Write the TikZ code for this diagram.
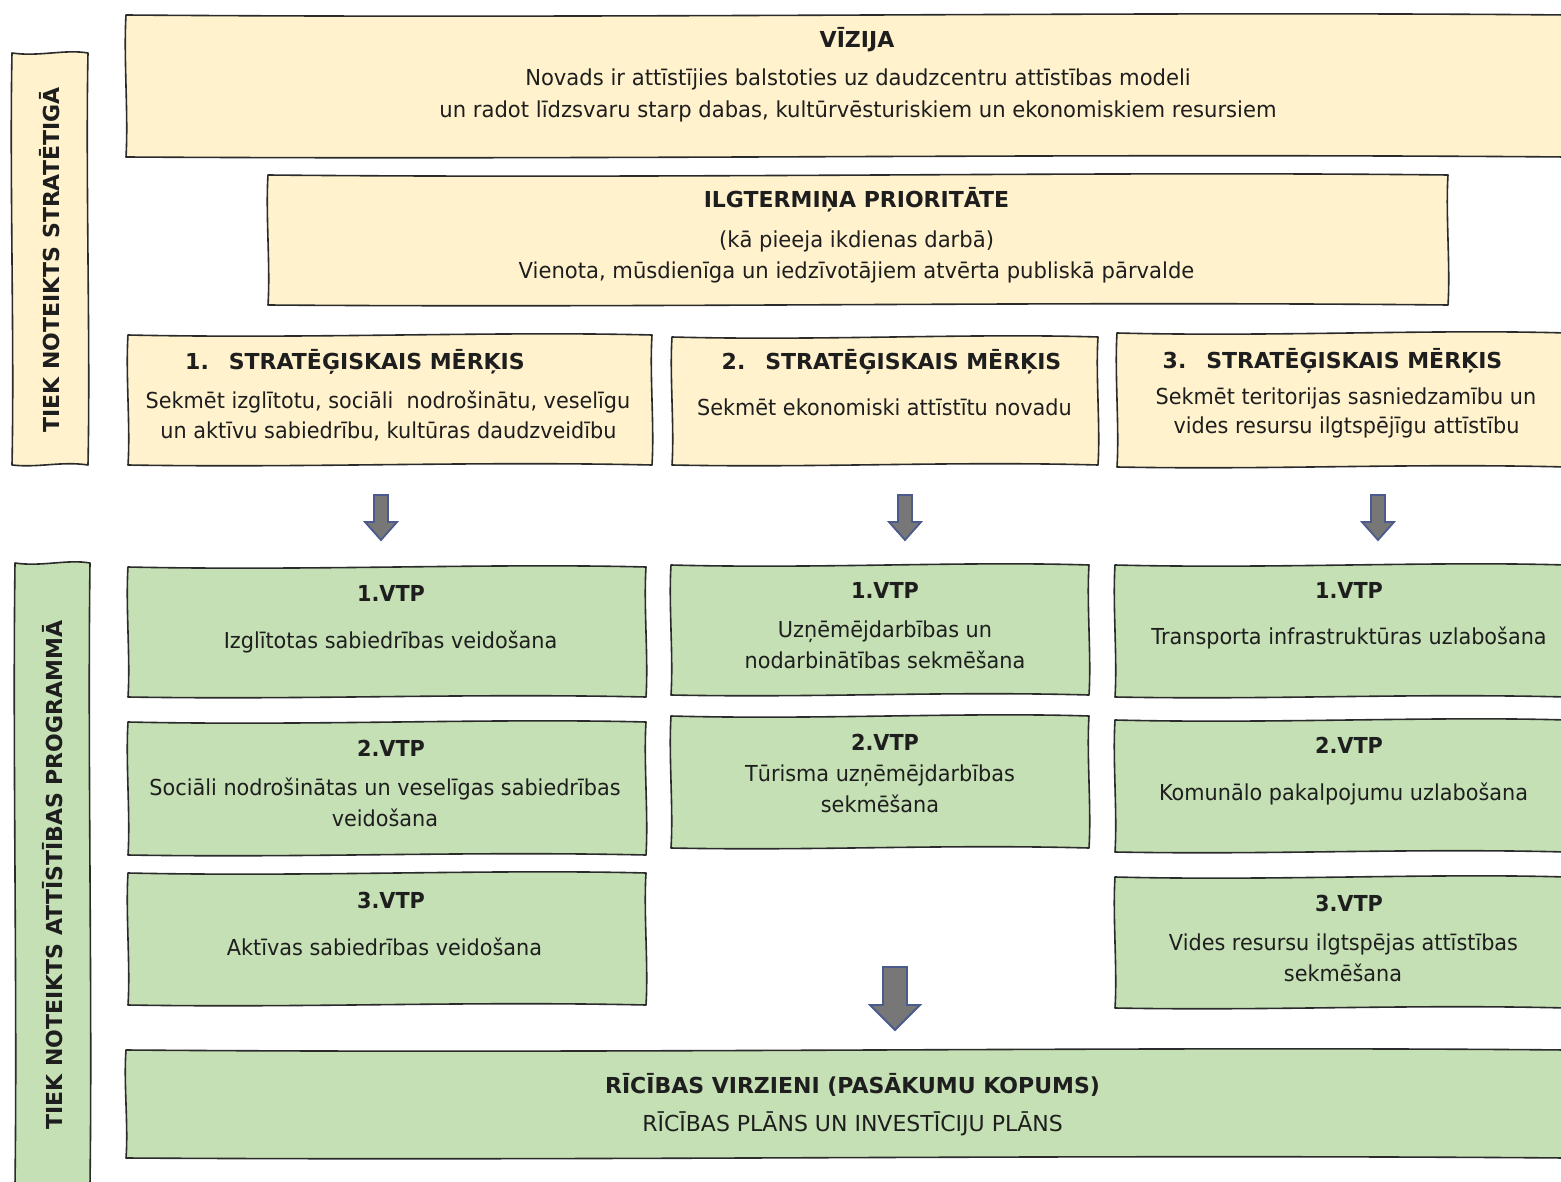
\documentclass[tikz,border=0pt]{standalone}
\usepackage{fontspec}
\usetikzlibrary{calc,backgrounds}
\newfontfamily\bodyf[FakeStretch=0.945]{DejaVu Sans}
\newfontfamily\narf[FakeStretch=0.96]{DejaVu Sans}
\newfontfamily\widef{DejaVu Sans}
\definecolor{beige}{HTML}{FFF2CC}
\definecolor{vgreen}{HTML}{C5E0B4}
\definecolor{framec}{HTML}{2B2B2B}
\definecolor{arrfill}{HTML}{777777}
\definecolor{arrline}{HTML}{4A5B8C}
\definecolor{txt}{HTML}{1E1E1E}
\newcommand\sketchframe[2]{%
 \begin{scope}[on background layer]
 \draw[frame, fill=#2] (#1.north west)
   .. controls ($(#1.north west)!0.35!(#1.north east)+(0,4)$) and ($(#1.north west)!0.7!(#1.north east)+(0,-4)$) .. (#1.north east)
   .. controls ($(#1.north east)!0.3!(#1.south east)+(-2.5,0)$) and ($(#1.north east)!0.7!(#1.south east)+(2.5,0)$) .. (#1.south east)
   .. controls ($(#1.south east)!0.35!(#1.south west)+(0,-4)$) and ($(#1.south east)!0.65!(#1.south west)+(0,3)$) .. (#1.south west)
   .. controls ($(#1.south west)!0.3!(#1.north west)+(2.5,0)$) and ($(#1.south west)!0.7!(#1.north west)+(-2.5,0)$) .. cycle;
 \end{scope}}
\tikzset{
  frame/.style={draw=framec, line width=1.6pt, line join=round},
  box/.style={inner sep=0pt, outer sep=0pt},
  tb/.style={anchor=base, inner sep=0pt, text=txt, font=\bodyf\fontsize{22}{26}\selectfont},
  tn/.style={anchor=base, inner sep=0pt, text=txt, font=\narf\fontsize{22}{26}\selectfont},
  tw/.style={anchor=base, inner sep=0pt, text=txt, font=\widef\fontsize{22}{26}\selectfont},
  hb/.style={anchor=base, inner sep=0pt, text=txt, font=\bodyf\bfseries\fontsize{22}{26}\selectfont},
  hw/.style={anchor=base, inner sep=0pt, text=txt, font=\widef\bfseries\fontsize{22}{26}\selectfont},
  lab/.style={anchor=center, inner sep=0pt, text=txt, rotate=90, font=\widef\bfseries\fontsize{22}{24}\selectfont},
  arr/.style={draw=arrline, fill=arrfill, line width=1.8pt, line join=miter},
  smallarrow/.pic={\draw[arr] (-7,0) -- (7,0) -- (7,27) -- (16,27) -- (0,45) -- (-16,27) -- (-7,27) -- cycle;},
  bigarrow/.pic={\draw[arr] (-12,0) -- (12,0) -- (12,38) -- (25,38) -- (0,63) -- (-25,38) -- (-12,38) -- cycle;}
}
\begin{document}
\begin{tikzpicture}[x=1pt,y=-1pt]
\useasboundingbox (0,0) rectangle (1561,1182);
% boxes
\node[box, minimum width=76pt, minimum height=412pt] (lab1) at (50,259) {};
\node[box, minimum width=75pt, minimum height=622pt] (lab2) at (52.5,874) {};
\node[box, minimum width=1440pt, minimum height=142pt] (viz) at (846,86) {};
\node[box, minimum width=1180pt, minimum height=130pt] (ilg) at (858,240) {};
\node[box, minimum width=524pt, minimum height=130pt] (sm1) at (390,400) {};
\node[box, minimum width=426pt, minimum height=128pt] (sm2) at (885,401) {};
\node[box, minimum width=449pt, minimum height=134pt] (sm3) at (1341.5,400) {};
\node[box, minimum width=518pt, minimum height=130pt] (g11) at (387,632) {};
\node[box, minimum width=518pt, minimum height=133pt] (g12) at (387,788.5) {};
\node[box, minimum width=518pt, minimum height=132pt] (g13) at (387,939) {};
\node[box, minimum width=418pt, minimum height=130pt] (g21) at (880,630) {};
\node[box, minimum width=418pt, minimum height=132pt] (g22) at (880,782) {};
\node[box, minimum width=451pt, minimum height=132pt] (g31) at (1340.5,631) {};
\node[box, minimum width=451pt, minimum height=132pt] (g32) at (1340.5,786) {};
\node[box, minimum width=451pt, minimum height=131pt] (g33) at (1340.5,942.5) {};
\node[box, minimum width=1440pt, minimum height=108pt] (bot) at (846,1104) {};
\sketchframe{lab1}{beige}
\sketchframe{lab2}{vgreen}
\sketchframe{viz}{beige}
\sketchframe{ilg}{beige}
\sketchframe{sm1}{beige}
\sketchframe{sm2}{beige}
\sketchframe{sm3}{beige}
\sketchframe{g11}{vgreen}
\sketchframe{g12}{vgreen}
\sketchframe{g13}{vgreen}
\sketchframe{g21}{vgreen}
\sketchframe{g22}{vgreen}
\sketchframe{g31}{vgreen}
\sketchframe{g32}{vgreen}
\sketchframe{g33}{vgreen}
\sketchframe{bot}{vgreen}
% side labels
\node[lab] (l1t) at (50,260) {TIEK NOTEIKTS STRATĒTIGĀ};
\node[lab] (l2t) at (53,875) {TIEK NOTEIKTS ATTĪSTĪBAS PROGRAMMĀ};
% vizija
\node[hw] (vz0) at (857,48) {VĪZIJA};
\node[tn] (vz1) at (858,86) {Novads ir attīstījies balstoties uz daudzcentru attīstības modeli};
\node[tn] (vz2) at (858,118) {un radot līdzsvaru starp dabas, kultūrvēsturiskiem un ekonomiskiem resursiem};
% ilgtermina
\node[hw] (il0) at (856.5,208) {ILGTERMIŅA PRIORITĀTE};
\node[tn] (il1) at (856.5,248) {(kā pieeja ikdienas darbā)};
\node[tn] (il2) at (856.5,279) {Vienota, mūsdienīga un iedzīvotājiem atvērta publiskā pārvalde};
% SM
\node[hw] (s1h) at (355,369) {1.\hspace{20pt}STRATĒĢISKAIS MĒRĶIS};
\node[tb] (s1a) at (388,408) {Sekmēt izglītotu, sociāli \ nodrošinātu, veselīgu};
\node[tb] (s1b) at (388.5,438) {un aktīvu sabiedrību, kultūras daudzveidību};
\node[hw] (s2h) at (891.5,370) {2.\hspace{20pt}STRATĒĢISKAIS MĒRĶIS};
\node[tb] (s2a) at (884.5,415) {Sekmēt ekonomiski attīstītu novadu};
\node[hw] (s3h) at (1332.5,368) {3.\hspace{20pt}STRATĒĢISKAIS MĒRĶIS};
\node[tb] (s3a) at (1346,404) {Sekmēt teritorijas sasniedzamību un};
\node[tb] (s3b) at (1346.5,433) {vides resursu ilgtspējīgu attīstību};
% arrows
\pic at (381,495) {smallarrow};
\pic at (905,495) {smallarrow};
\pic at (1378,495) {smallarrow};
\pic at (895,967) {bigarrow};
% green col1
\node[hb] (a1h) at (391,601) {1.VTP};
\node[tb] (a1t) at (390.5,648) {Izglītotas sabiedrības veidošana};
\node[hb] (a2h) at (391,756) {2.VTP};
\node[tb] (a2t) at (385,795) {Sociāli nodrošinātas un veselīgas sabiedrības};
\node[tb] (a2u) at (385,826) {veidošana};
\node[hb] (a3h) at (391,908) {3.VTP};
\node[tb] (a3t) at (384.5,955) {Aktīvas sabiedrības veidošana};
% col2
\node[hb] (b1h) at (885,598) {1.VTP};
\node[tb] (b1t) at (885,637) {Uzņēmējdarbības un};
\node[tb] (b1u) at (885,668) {nodarbinātības sekmēšana};
\node[hb] (b2h) at (885,750) {2.VTP};
\node[tb] (b2t) at (880,781) {Tūrisma uzņēmējdarbības};
\node[tb] (b2u) at (880,812) {sekmēšana};
% col3
\node[hb] (c1h) at (1349,598) {1.VTP};
\node[tb] (c1t) at (1349,644) {Transporta infrastruktūras uzlabošana};
\node[hb] (c2h) at (1349,753) {2.VTP};
\node[tb] (c2t) at (1343.5,800) {Komunālo pakalpojumu uzlabošana};
\node[hb] (c3h) at (1349,911) {3.VTP};
\node[tb] (c3t) at (1343.5,950) {Vides resursu ilgtspējas attīstības};
\node[tb] (c3u) at (1343,981) {sekmēšana};
% bottom
\node[hw] (r0) at (852.5,1093) {RĪCĪBAS VIRZIENI (PASĀKUMU KOPUMS)};
\node[tw] (r1) at (852.5,1131) {RĪCĪBAS PLĀNS UN INVESTĪCIJU PLĀNS};
\end{tikzpicture}
\end{document}
